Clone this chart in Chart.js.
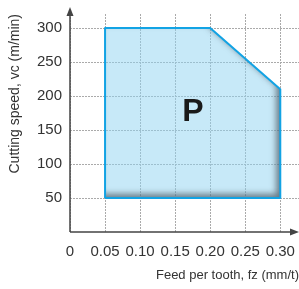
<!DOCTYPE html>
<html>
<head>
<meta charset="utf-8">
<script src="https://cdn.jsdelivr.net/npm/chart.js@4"></script>
<style>
  body { margin: 0; background: #fff; }
</style>
</head>
<body>
<canvas id="cutting-chart" width="299" height="289"></canvas>
<script>
const feed = [0.05, 0.05, 0.20, 0.30, 0.30, 0.05];
const speed = [50, 300, 300, 210, 50, 50];
const xTicks = [0, 0.05, 0.10, 0.15, 0.20, 0.25, 0.30];
const yTicks = [50, 100, 150, 200, 250, 300];
const label = 'P';

const sans = "'Liberation Sans', Arial, sans-serif";
const axisColor = '#444';

// inner shadow along the bottom and right edges of the region
const innerShadow = {
    id: 'innerShadow',
    beforeDatasetDraw(chart, args) {
        const pts = args.meta.data;
        const ctx = chart.ctx;
        ctx.save();
        ctx.beginPath();
        pts.forEach((p, i) => i ? ctx.lineTo(p.x, p.y) : ctx.moveTo(p.x, p.y));
        ctx.closePath();
        ctx.clip();
        ctx.beginPath();
        ctx.rect(-1000, -1000, 3000, 3000);
        pts.forEach((p, i) => i ? ctx.lineTo(p.x, p.y) : ctx.moveTo(p.x, p.y));
        ctx.closePath();
        ctx.shadowColor = 'rgba(40, 50, 60, 0.6)';
        ctx.shadowBlur = 6;
        ctx.shadowOffsetX = -4;
        ctx.shadowOffsetY = -4;
        ctx.fillStyle = '#fff';
        ctx.fill('evenodd');
        ctx.restore();
    }
};

// axis lines with arrow heads, and the big letter
const axesAndLetter = {
    id: 'axesAndLetter',
    afterDatasetsDraw(chart) {
        const {ctx, chartArea: a, scales} = chart;
        ctx.save();
        ctx.strokeStyle = axisColor;
        ctx.fillStyle = axisColor;
        ctx.lineWidth = 1.5;
        ctx.beginPath();
        ctx.moveTo(a.left, a.bottom);
        ctx.lineTo(a.left, 12);
        ctx.moveTo(a.left, a.bottom);
        ctx.lineTo(a.right - 4, a.bottom);
        ctx.stroke();
        ctx.beginPath();
        ctx.moveTo(a.left, 7);
        ctx.lineTo(a.left - 3.5, 16);
        ctx.lineTo(a.left + 3.5, 16);
        ctx.closePath();
        ctx.fill();
        ctx.beginPath();
        ctx.moveTo(a.right, a.bottom);
        ctx.lineTo(a.right - 9, a.bottom - 3.5);
        ctx.lineTo(a.right - 9, a.bottom + 3.5);
        ctx.closePath();
        ctx.fill();

        ctx.fillStyle = '#1a1a1a';
        ctx.font = "bold 32px " + sans;
        ctx.textAlign = 'center';
        ctx.textBaseline = 'middle';
        ctx.fillText(label, scales.x.getPixelForValue(0.1755), scales.y.getPixelForValue(176));
        ctx.restore();
    }
};

function noPad(s) {
    s.paddingLeft = 0;
    s.paddingRight = 0;
    s.paddingTop = 0;
    s.paddingBottom = 0;
}

const ctx = document.getElementById('cutting-chart').getContext('2d');

const chart = new Chart(ctx, {
    type: 'line',
    data: {
        datasets: [{
            data: feed.map((x, i) => ({x: x, y: speed[i]})),
            borderColor: '#12a3e4',
            borderWidth: 2,
            borderJoinStyle: 'round',
            backgroundColor: 'rgba(143, 211, 241, 0.5)',
            fill: 'shape',
            pointRadius: 0,
            tension: 0
        }]
    },
    options: {
        responsive: false,
        animation: false,
        layout: { padding: { top: 14, right: 0, left: 0, bottom: 0 } },
        plugins: {
            legend: { display: false },
            tooltip: { enabled: false }
        },
        scales: {
            x: {
                type: 'linear',
                min: 0,
                max: 0.3267,
                afterBuildTicks: s => { s.ticks = xTicks.map(v => ({value: v})); },
                afterFit: s => { s.height = 57; noPad(s); },
                grid: { color: '#aaa', lineWidth: 1, drawTicks: false },
                border: { display: false, dash: [2, 1] },
                ticks: {
                    padding: 11,
                    color: '#333',
                    font: { family: sans, size: 15 },
                    maxRotation: 0,
                    autoSkip: false,
                    callback: v => v === 0 ? '0' : v.toFixed(2)
                },
                title: {
                    display: true,
                    text: 'Feed per tooth, fz (mm/t)',
                    align: 'end',
                    color: '#333',
                    font: { family: sans, size: 13 },
                    padding: { top: 0, bottom: 6 }
                }
            },
            y: {
                min: 0,
                max: 320.6,
                afterBuildTicks: s => { s.ticks = yTicks.map(v => ({value: v})); },
                afterFit: s => { s.width = 70; noPad(s); },
                grid: { color: '#aaa', lineWidth: 1, drawTicks: false },
                border: { display: false, dash: [2, 1] },
                ticks: {
                    padding: 8,
                    color: '#333',
                    font: { family: sans, size: 15 }
                },
                title: {
                    display: true,
                    text: 'Cutting speed, vc (m/min)',
                    align: 'end',
                    color: '#333',
                    font: { family: sans, size: 14 },
                    padding: { top: 7, bottom: 0 }
                }
            }
        }
    },
    plugins: [innerShadow, axesAndLetter]
});
</script>
</body>
</html>
